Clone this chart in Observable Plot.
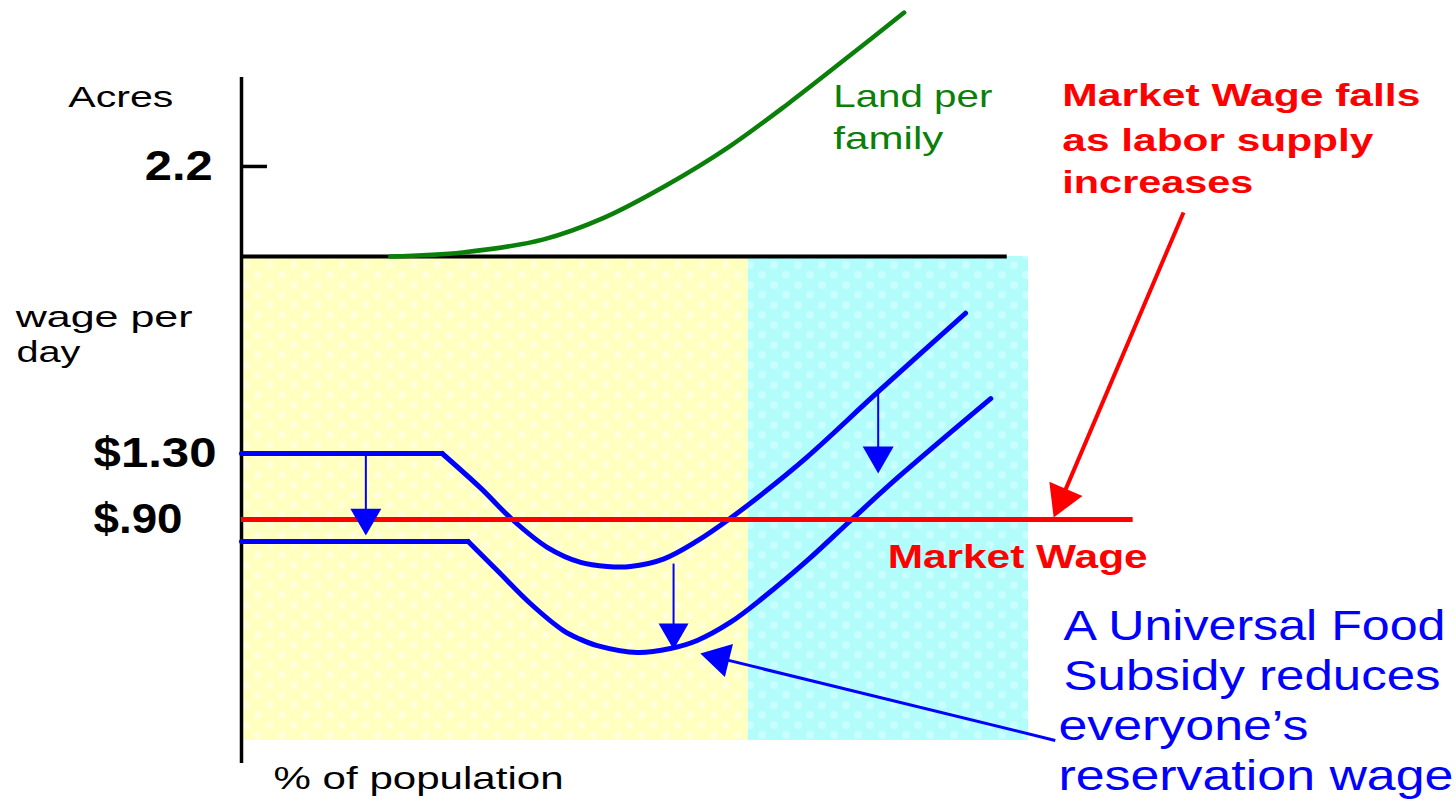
<!DOCTYPE html>
<html>
<head>
<meta charset="utf-8">
<script src="https://cdn.jsdelivr.net/npm/d3@7"></script>
<script src="https://cdn.jsdelivr.net/npm/@observablehq/plot@0.6"></script>
<style>
  html, body { margin: 0; padding: 0; background: #ffffff; }
  #chart svg { display: block; }
</style>
</head>
<body>
<div id="chart"></div>
<script>
// ---------------- DATA ----------------
// Reservation wage ($/day) by % of population, before the food subsidy
const reservationWageBefore = [
  [0, 1.30], [25.5, 1.30], [30.4, 1.09], [34.4, 0.90], [38.9, 0.73], [43.1, 0.64],
  [46.5, 0.615], [49.4, 0.615], [53.6, 0.66], [57.9, 0.77], [61.9, 0.90],
  [66.3, 1.06], [71.9, 1.28], [80.8, 1.67], [92.0, 2.15]
];
// Reservation wage after a universal food subsidy
const reservationWageAfter = [
  [0, 0.767], [28.8, 0.767], [32.5, 0.591], [36.7, 0.391], [40.9, 0.227], [43.0, 0.175],
  [45.2, 0.136], [50.3, 0.094], [54.5, 0.118], [57.9, 0.167], [62.1, 0.276],
  [66.3, 0.427], [71.9, 0.652], [77.4, 0.894], [83.7, 1.167], [95.2, 1.633]
];
// Market wage ($/day)
const marketWage = 0.90;
// Land per family (acres) by % of population
const landPerFamily = [
  [18.9, 0], [28.1, 0.10], [38.4, 0.42], [46.1, 0.95], [54.0, 1.74],
  [61.8, 2.66], [69.5, 3.74], [77.3, 4.91], [84.2, 5.96]
];
// Downward shifts of the reservation wage: [% of population, from $, to $]
const subsidyShifts = [
  [15.8, 1.288, 0.803],
  [54.9, 0.633, 0.112],
  [80.9, 1.670, 1.179]
];
// Tick labels
const wageTicks = [1.30, 0.90];
const wageTickLabels = ["$1.30", "$.90"];
const acreTicks = [2.2];
const acreTickLabels = ["2.2"];

// ---------------- LAYOUT ----------------
const X_PX = [241, 1028];           // pixel range of 0–100 % of population
const Y_PX = [519, 453];            // pixel range of $0.90–$1.30
const KX = (X_PX[1] - X_PX[0]) / 100;
const KY = (Y_PX[0] - Y_PX[1]) / 0.4;
const ACRE_BASE = 2.494, ACRE_UNIT = 0.248;   // acres panel, in wage-equivalent units
const acres = a => ACRE_BASE + a * ACRE_UNIT;
const PANEL = {
  top: acres(4.375), split: acres(0), bottom: -0.439, axisBottom: -0.579,
  cyanStart: 64.4, right: 100, baselineEnd: 97.3, marketEnd: 113.3, tickEnd: 3.3
};
const FONT = "Liberation Sans, Arial, Helvetica, sans-serif";
const BLUE = "#0000ff", RED = "#ff0000", GREEN = "#0a7f0a";

const labels = [
  {text: "Acres", x: -22.0, y: 3.403, size: 30, weight: "normal", color: "#000"},
  {text: "wage per", x: -28.7, y: 2.064, size: 29, weight: "normal", color: "#000"},
  {text: "day", x: -28.6, y: 1.852, size: 29, weight: "normal", color: "#000"},
  {text: "Land per", x: 75.2, y: 3.403, size: 32, weight: "normal", color: GREEN},
  {text: "family", x: 75.2, y: 3.148, size: 32, weight: "normal", color: GREEN},
  {text: "Market Wage falls", x: 104.3, y: 3.409, size: 32, weight: "bold", color: RED},
  {text: "as labor supply", x: 104.3, y: 3.136, size: 32, weight: "bold", color: RED},
  {text: "increases", x: 104.3, y: 2.876, size: 32, weight: "bold", color: RED},
  {text: "Market Wage", x: 82.1, y: 0.609, size: 33, weight: "bold", color: RED},
  {text: "A Universal Food", x: 104.45, y: 0.167, size: 42, weight: "normal", color: BLUE},
  {text: "Subsidy reduces", x: 104.45, y: -0.136, size: 42, weight: "normal", color: BLUE},
  {text: "everyone\u2019s", x: 103.8, y: -0.439, size: 42, weight: "normal", color: BLUE},
  {text: "reservation wage", x: 103.8, y: -0.742, size: 42, weight: "normal", color: BLUE},
  {text: "% of population", x: 4.07, y: -0.736, size: 32, weight: "normal", color: "#000"}
];
const textWidths = {
  "Acres": 105, "wage per": 177, "day": 64, "Land per": 159, "family": 110,
  "Market Wage falls": 358, "as labor supply": 311, "increases": 191, "Market Wage": 260,
  "A Universal Food": 382, "Subsidy reduces": 377, "everyone\u2019s": 250,
  "reservation wage": 395, "% of population": 290,
  "$1.30": 123, "$.90": 89, "2.2": 68
};

const arrows = [
  ...subsidyShifts.map(([x, from, to], i) => ({tail: [x, from], tip: [x, to], color: BLUE, width: 2, side: i === 1 ? 30 : 31})),
  {tail: [119.7, 2.761], tip: [103.2, 0.912], color: RED, width: 4, side: 36},
  {tail: [103.4, -0.439], tip: [58.3, 0.088], color: BLUE, width: 3, side: 34}
];
function arrowHead(a) {
  const dx = (a.tip[0] - a.tail[0]) * KX;
  const dy = -(a.tip[1] - a.tail[1]) * KY;
  const len = Math.hypot(dx, dy);
  const ux = dx / len, uy = dy / len;
  const back = a.side / Math.sqrt(3);      // apex-to-centroid distance
  return {
    x: a.tip[0] - ux * back / KX,
    y: a.tip[1] + uy * back / KY,
    rotate: Math.atan2(ux, -uy) * 180 / Math.PI,
    r: a.side * 0.3713
  };
}

// a reservation-wage curve: straight flat part, then a smooth dip and rise
function wageCurve(data) {
  const style = {x: d => d[0], y: d => d[1], stroke: BLUE, strokeWidth: 5,
    strokeLinecap: "round", strokeLinejoin: "round"};
  return [
    Plot.line(data.slice(0, 2), {...style, curve: "linear"}),
    Plot.line(data.slice(1), {...style, curve: "catmull-rom"})
  ];
}

// ---------------- MARKS ----------------
const marks = [
  Plot.rect([{x1: 0, x2: PANEL.cyanStart, y1: PANEL.bottom, y2: PANEL.split}],
    {x1: "x1", x2: "x2", y1: "y1", y2: "y2", fill: "url(#yellowDots)"}),
  Plot.rect([{x1: PANEL.cyanStart, x2: PANEL.right, y1: PANEL.bottom, y2: PANEL.split}],
    {x1: "x1", x2: "x2", y1: "y1", y2: "y2", fill: "url(#cyanDots)"}),
  Plot.ruleY([0], {y: () => PANEL.split, x1: () => 0, x2: () => PANEL.baselineEnd, stroke: "#000", strokeWidth: 4}),
  Plot.line(landPerFamily, {x: d => d[0], y: d => acres(d[1]), stroke: GREEN, strokeWidth: 4.5,
    curve: "catmull-rom", strokeLinecap: "round"}),
  Plot.ruleX([0], {y1: () => PANEL.axisBottom, y2: () => PANEL.top, stroke: "#000", strokeWidth: 3.5}),
  Plot.ruleY(acreTicks, {y: a => acres(a), x1: () => 0, x2: () => PANEL.tickEnd, stroke: "#000", strokeWidth: 3.5}),
  ...wageCurve(reservationWageBefore),
  ...wageCurve(reservationWageAfter),
  Plot.ruleY([marketWage], {x1: () => 0, x2: () => PANEL.marketEnd, stroke: RED, strokeWidth: 5}),
  ...arrows.flatMap(a => {
    const h = arrowHead(a);
    return [
      Plot.link([a], {x1: d => d.tail[0], y1: d => d.tail[1], x2: () => h.x, y2: () => h.y,
        stroke: a.color, strokeWidth: a.width}),
      Plot.dot([h], {x: "x", y: "y", symbol: "triangle", r: h.r, rotate: h.rotate, fill: a.color, stroke: "none"})
    ];
  }),
  Plot.text(wageTicks, {x: () => -18.8, y: d => d, text: (d, i) => wageTickLabels[i],
    textAnchor: "start", lineAnchor: "middle", fontSize: 42, fontWeight: "bold", fill: "#000", fontFamily: FONT}),
  Plot.text(acreTicks, {x: () => -12.3, y: d => acres(d), text: (d, i) => acreTickLabels[i],
    textAnchor: "start", lineAnchor: "middle", fontSize: 42, fontWeight: "bold", fill: "#000", fontFamily: FONT}),
  ...labels.map(l => Plot.text([l], {x: "x", y: "y", text: "text", textAnchor: "start", lineAnchor: "bottom",
    fontSize: l.size, fontWeight: l.weight, fill: l.color, fontFamily: FONT}))
];

const svg = Plot.plot({
  width: 1456,
  height: 802,
  margin: 0,
  x: {domain: [0, 100], range: X_PX, axis: null},
  y: {domain: [0.9, 1.3], range: Y_PX, axis: null},
  style: {background: "#ffffff", fontFamily: FONT},
  marks
});

// dotted fill patterns
const defs = d3.select(svg).insert("defs", ":first-child");
function addPattern(id, base, dot) {
  const p = defs.append("pattern").attr("id", id).attr("patternUnits", "userSpaceOnUse")
    .attr("width", 24).attr("height", 20);
  p.append("rect").attr("width", 24).attr("height", 20).attr("fill", base);
  p.append("circle").attr("cx", 6).attr("cy", 5).attr("r", 4).attr("fill", dot);
  p.append("circle").attr("cx", 18).attr("cy", 15).attr("r", 4).attr("fill", dot);
}
addPattern("yellowDots", "#ffffc0", "#ffffd8");
addPattern("cyanDots", "#b2fcfc", "#c8ffff");

// stretch text to the widths seen in the slide
d3.select(svg).selectAll("text").each(function () {
  const w = textWidths[this.textContent];
  if (w) {
    this.setAttribute("textLength", w);
    this.setAttribute("lengthAdjust", "spacingAndGlyphs");
  }
});

document.getElementById("chart").appendChild(svg);
</script>
</body>
</html>
